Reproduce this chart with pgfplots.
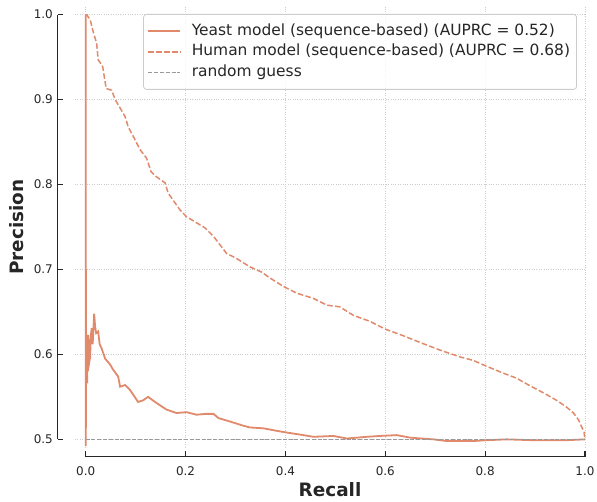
\documentclass[border=0pt]{standalone}
\usepackage{pgfplots}
\pgfplotsset{compat=1.18}
\usepackage{fontspec}
\setmainfont{DejaVu Sans}
\definecolor{curve}{HTML}{E1896B}
\definecolor{txt}{HTML}{262626}
\definecolor{gridc}{HTML}{CCCCCC}
\definecolor{rnd}{HTML}{999999}

\begin{document}
\begin{tikzpicture}
\begin{axis}[
  scale only axis, width=510bp, height=440bp,
  xmin=-0.0214, xmax=1.0, ymin=0.491, ymax=1.009,
  clip=false,
  axis line style={draw=none},
  major tick length=0pt,
  xtick={0,0.2,0.4,0.6,0.8,1.0},
  xticklabels={0.0,0.2,0.4,0.6,0.8,1.0},
  ytick={0.5,0.6,0.7,0.8,0.9,1.0},
  yticklabels={0.5,0.6,0.7,0.8,0.9,1.0},
  grid=major, grid style={dotted, gridc, line width=0.9bp},
  ticklabel style={font=\fontsize{12}{14}\selectfont, text=txt},
  xticklabel style={anchor=north, inner sep=0pt, yshift=-19.5bp},
  yticklabel style={anchor=east, inner sep=0pt, xshift=-22bp},
  xlabel={\textbf{Recall}}, ylabel={\textbf{Precision}},
  xlabel style={at={(axis description cs:0.5,-0.0977)}, anchor=center, font=\fontsize{18.5}{22}\selectfont, text=txt},
  ylabel style={at={(axis description cs:-0.1137,0.5)}, anchor=center, font=\fontsize{18.5}{22}\selectfont, text=txt},
  legend cell align=left,
  legend image code/.code={\draw[#1] (0bp,0bp) -- (32bp,0bp); \path (40bp,0bp);},
  legend style={at={(0.9843,0.9841)}, anchor=north east, draw=gridc, line width=0.8bp,
    rounded corners=3bp, fill=white, fill opacity=0.8, text opacity=1, draw opacity=1,
    font=\fontsize{15.5}{18}\selectfont, text=txt, inner xsep=4bp, inner ysep=7bp,
    row sep=0.5bp, nodes={inner sep=2.5bp, text height=11.5bp, text depth=3.5bp}},
]
\addplot[curve, line width=1.8bp] coordinates {
(0,1.0) (0.0003,0.492) (0.0006,0.70) (0.001,0.57) (0.002,0.61) (0.003,0.566) (0.004,0.61)
(0.005,0.623) (0.007,0.59) (0.009,0.597) (0.010,0.62) (0.012,0.631) (0.014,0.612) (0.017,0.648)
(0.019,0.632) (0.021,0.625) (0.025,0.627) (0.028,0.612) (0.032,0.607) (0.039,0.595) (0.049,0.588)
(0.055,0.582) (0.065,0.574) (0.069,0.562) (0.079,0.564) (0.089,0.558) (0.105,0.544) (0.115,0.546)
(0.125,0.550) (0.139,0.544) (0.149,0.540) (0.162,0.535) (0.182,0.531) (0.202,0.532) (0.222,0.529)
(0.240,0.530) (0.256,0.530) (0.266,0.525) (0.289,0.521) (0.316,0.516) (0.329,0.514) (0.356,0.513)
(0.383,0.510) (0.403,0.508) (0.436,0.505) (0.456,0.503) (0.496,0.504) (0.523,0.501) (0.563,0.503)
(0.589,0.504) (0.623,0.505) (0.650,0.502) (0.696,0.500) (0.723,0.498) (0.776,0.498) (0.803,0.499)
(0.843,0.500) (0.896,0.499) (0.963,0.499) (1.0,0.500)
};
\addlegendentry{Yeast model (sequence-based) (AUPRC = 0.52)}
\addplot[curve, line width=1.5bp, dash pattern=on 5.5bp off 2.4bp] coordinates {
(0,1.0) (0.002,1.0) (0.009,0.994) (0.015,0.980) (0.022,0.966) (0.025,0.947) (0.034,0.939)
(0.041,0.913) (0.052,0.911) (0.059,0.900) (0.069,0.890) (0.079,0.880) (0.085,0.868) (0.095,0.857)
(0.109,0.841) (0.122,0.831) (0.131,0.815) (0.142,0.809) (0.159,0.802) (0.165,0.790) (0.189,0.770)
(0.202,0.762) (0.239,0.749) (0.256,0.739) (0.282,0.719) (0.302,0.713) (0.329,0.703) (0.352,0.697)
(0.369,0.690) (0.396,0.680) (0.423,0.672) (0.456,0.666) (0.483,0.658) (0.509,0.656) (0.536,0.646)
(0.569,0.639) (0.599,0.630) (0.636,0.622) (0.670,0.614) (0.710,0.605) (0.750,0.597) (0.776,0.593)
(0.803,0.586) (0.836,0.578) (0.863,0.572) (0.890,0.563) (0.916,0.555) (0.943,0.546) (0.963,0.538)
(0.977,0.531) (0.987,0.523) (0.993,0.515) (0.998,0.509) (1.0,0.500)
};
\addlegendentry{Human model (sequence-based) (AUPRC = 0.68)}
\addplot[rnd, line width=1.2bp, dash pattern=on 4bp off 1.8bp] coordinates {(0,0.5) (1,0.5)};
\addlegendentry{random guess}

% offset spines (seaborn style)
\draw[txt, line width=1.25bp] ([xshift=-17.3bp]axis cs:-0.0214,0.5) -- ([xshift=-17.3bp]axis cs:-0.0214,1.0);
\draw[txt, line width=1.25bp] ([xshift=-17.3bp]axis cs:-0.0214,0.5) -- ([xshift=-11.8bp]axis cs:-0.0214,0.5);
\draw[txt, line width=1.25bp] ([xshift=-17.3bp]axis cs:-0.0214,0.6) -- ([xshift=-11.8bp]axis cs:-0.0214,0.6);
\draw[txt, line width=1.25bp] ([xshift=-17.3bp]axis cs:-0.0214,0.7) -- ([xshift=-11.8bp]axis cs:-0.0214,0.7);
\draw[txt, line width=1.25bp] ([xshift=-17.3bp]axis cs:-0.0214,0.8) -- ([xshift=-11.8bp]axis cs:-0.0214,0.8);
\draw[txt, line width=1.25bp] ([xshift=-17.3bp]axis cs:-0.0214,0.9) -- ([xshift=-11.8bp]axis cs:-0.0214,0.9);
\draw[txt, line width=1.25bp] ([xshift=-17.3bp]axis cs:-0.0214,1.0) -- ([xshift=-11.8bp]axis cs:-0.0214,1.0);
\draw[txt, line width=1.25bp] ([yshift=-9.7bp]axis cs:0,0.491) -- ([yshift=-9.7bp]axis cs:1,0.491);
\draw[txt, line width=1.25bp] ([yshift=-9.7bp]axis cs:0,0.491) -- ([yshift=-4.2bp]axis cs:0,0.491);
\draw[txt, line width=1.25bp] ([yshift=-9.7bp]axis cs:0.2,0.491) -- ([yshift=-4.2bp]axis cs:0.2,0.491);
\draw[txt, line width=1.25bp] ([yshift=-9.7bp]axis cs:0.4,0.491) -- ([yshift=-4.2bp]axis cs:0.4,0.491);
\draw[txt, line width=1.25bp] ([yshift=-9.7bp]axis cs:0.6,0.491) -- ([yshift=-4.2bp]axis cs:0.6,0.491);
\draw[txt, line width=1.25bp] ([yshift=-9.7bp]axis cs:0.8,0.491) -- ([yshift=-4.2bp]axis cs:0.8,0.491);
\draw[txt, line width=1.25bp] ([yshift=-9.7bp]axis cs:1,0.491) -- ([yshift=-4.2bp]axis cs:1,0.491);
\coordinate (ll) at (rel axis cs:0,0);
\coordinate (ur) at (rel axis cs:1,1);
\end{axis}
\pgfresetboundingbox
\path ([shift={(-75bp,-55bp)}]ll) rectangle ([shift={(12bp,7bp)}]ur);
\end{tikzpicture}
\end{document}
